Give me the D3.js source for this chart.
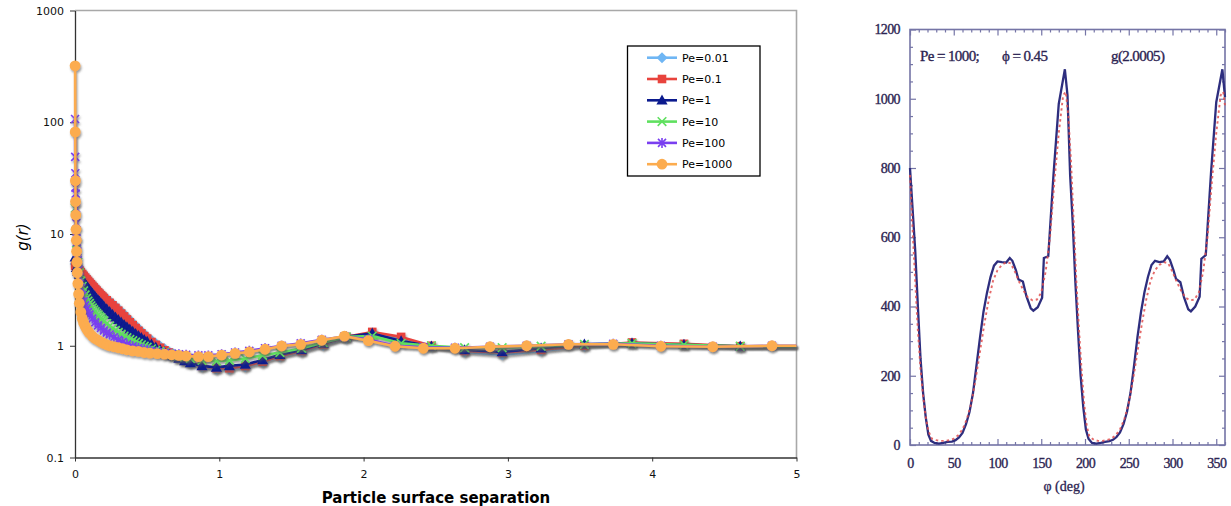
<!DOCTYPE html>
<html><head><meta charset="utf-8">
<script src="https://cdn.jsdelivr.net/npm/d3@7"></script>
<style>body{margin:0;background:#fff}svg{display:block}</style>
</head><body>
<svg id="c" width="1231" height="506"></svg>
<script>
// ---------------- LEFT CHART DATA ----------------
const seriesNames = ["Pe=0.01", "Pe=0.1", "Pe=1", "Pe=10", "Pe=100", "Pe=1000"];
const seriesColors = ["#6fb6f4", "#e8433d", "#0b1a8e", "#5fe05f", "#7a3ff0", "#fcac4f"];
const seriesMarkers = ["diamond", "square", "triangle", "x", "asterisk", "circle"];

// separations for Pe = 0.01 ... 10
const sepLow = [0.001, 0.01,
  0.02, 0.03, 0.04, 0.05, 0.06, 0.07, 0.08, 0.09, 0.10, 0.11, 0.12, 0.13, 0.14, 0.15, 0.16, 0.17, 0.18, 0.19, 0.20,
  0.22, 0.24, 0.26, 0.28, 0.30, 0.32, 0.34, 0.36, 0.38, 0.40, 0.42, 0.44, 0.46, 0.48, 0.50,
  0.53, 0.56, 0.59, 0.62, 0.65, 0.68,
  0.72, 0.76, 0.80,
  0.88, 0.98, 1.07, 1.18, 1.30, 1.42, 1.57, 1.72, 1.88, 2.06,
  2.26, 2.47, 2.70, 2.96, 3.23, 3.53, 3.86, 4.22, 4.61, 5.03];
const gPe001 = [5.4, 5.2,
  5.05, 4.87, 4.7, 4.53, 4.37, 4.22, 4.08, 3.94, 3.81, 3.68, 3.56, 3.45, 3.34, 3.23, 3.13, 3.03, 2.94, 2.86, 2.78,
  2.64, 2.5, 2.37, 2.25, 2.13, 2.01, 1.9, 1.79, 1.69, 1.59, 1.5, 1.42, 1.34, 1.27, 1.2,
  1.12, 1.05, 0.99, 0.94, 0.89, 0.85,
  0.79, 0.74, 0.7,
  0.65, 0.62, 0.62, 0.65, 0.71, 0.8, 0.89, 1.01, 1.17, 1.3,
  1.16, 0.98, 0.88, 0.83, 0.9, 0.99, 1.06, 1.03, 0.98, 0.98];
const gPe01 = [5.2, 5.0,
  4.9, 4.72, 4.55, 4.38, 4.22, 4.07, 3.93, 3.8, 3.67, 3.55, 3.43, 3.32, 3.21, 3.11, 3.01, 2.92, 2.83, 2.75, 2.67,
  2.55, 2.42, 2.3, 2.18, 2.06, 1.94, 1.83, 1.72, 1.62, 1.53, 1.44, 1.36, 1.29, 1.22, 1.16,
  1.08, 1.02, 0.96, 0.91, 0.87, 0.83,
  0.78, 0.74, 0.71,
  0.66, 0.63, 0.63, 0.66, 0.72, 0.81, 0.9, 1.03, 1.2, 1.33,
  1.2, 1.0, 0.9, 0.87, 0.92, 1.0, 1.07, 1.04, 0.99, 0.98];
const gPe1 = [6.2, 5.0,
  4.6, 4.35, 4.12, 3.93, 3.75, 3.59, 3.44, 3.3, 3.17, 3.05, 2.94, 2.84, 2.74, 2.65, 2.56, 2.48, 2.4, 2.33, 2.26,
  2.13, 2.01, 1.9, 1.8, 1.71, 1.62, 1.54, 1.47, 1.4, 1.34, 1.28, 1.23, 1.18, 1.13, 1.09,
  1.03, 0.97, 0.92, 0.88, 0.84, 0.81,
  0.77, 0.73, 0.7,
  0.66, 0.64, 0.66, 0.68, 0.745, 0.83, 0.915, 1.05, 1.2, 1.29,
  1.1, 0.99, 0.915, 0.88, 0.95, 1.03, 1.05, 1.02, 0.99, 0.99];
const gPe10 = [17, 8.3,
  5.6, 4.5, 3.8, 3.4, 3.1, 2.85, 2.66, 2.51, 2.39, 2.28, 2.18, 2.1, 2.02, 1.95, 1.88, 1.82, 1.76, 1.71, 1.66,
  1.58, 1.5, 1.43, 1.37, 1.32, 1.27, 1.22, 1.18, 1.14, 1.11, 1.08, 1.05, 1.02, 0.99, 0.97,
  0.94, 0.91, 0.89, 0.87, 0.85, 0.83,
  0.81, 0.79, 0.77,
  0.74, 0.73, 0.74, 0.77, 0.82, 0.87, 0.95, 1.07, 1.2, 1.22,
  1.05, 1.0, 0.96, 0.96, 0.99, 1.03, 1.05, 1.02, 0.99, 0.99];

// separations for Pe = 100, 1000
const sepHigh = [0.0005, 0.0015, 0.0025, 0.0035, 0.005, 0.007, 0.009, 0.011, 0.013, 0.016,
  0.02, 0.025, 0.03, 0.04, 0.05, 0.06, 0.07, 0.08, 0.09, 0.10,
  0.12, 0.14, 0.16, 0.18, 0.20, 0.22, 0.24, 0.27, 0.30, 0.33,
  0.36, 0.40, 0.44, 0.48, 0.52, 0.57, 0.62, 0.67, 0.72, 0.77,
  0.855, 0.924, 1.016, 1.109, 1.208, 1.317, 1.432, 1.564, 1.71, 1.867,
  2.033, 2.218, 2.414, 2.633, 2.876, 3.13, 3.42, 3.73, 4.06, 4.42,
  4.83, 5.25];
const gPe100 = [107, 49, 35, 26, 23, 17, 12.5, 10.5, 8.5, 7,
  5.8, 4.8, 4.1, 3.3, 2.8, 2.5, 2.3, 2.15, 2.0, 1.9,
  1.75, 1.62, 1.52, 1.44, 1.37, 1.31, 1.26, 1.19, 1.13, 1.08,
  1.03, 0.99, 0.96, 0.93, 0.9, 0.88, 0.86, 0.85, 0.84, 0.83,
  0.82, 0.82, 0.84, 0.87, 0.9, 0.95, 1.0, 1.05, 1.13, 1.21,
  1.14, 1.0, 0.97, 0.96, 0.98, 1.0, 1.03, 1.04, 1.0, 0.98,
  1.0, 1.0];
const gPe1000 = [320, 82, 30, 19.5, 14.8, 11, 8.8, 7, 5.6, 4.5,
  3.6, 2.9, 2.4, 2.0, 1.75, 1.6, 1.5, 1.42, 1.35, 1.3,
  1.22, 1.16, 1.12, 1.08, 1.05, 1.02, 1.0, 0.98, 0.96, 0.94,
  0.92, 0.9, 0.89, 0.87, 0.86, 0.85, 0.84, 0.83, 0.82, 0.81,
  0.8, 0.8, 0.826, 0.855, 0.88, 0.93, 0.995, 1.03, 1.12, 1.22,
  1.11, 0.99, 0.95, 0.95, 0.98, 1.0, 1.03, 1.03, 0.99, 0.98,
  1.0, 1.0];

const yTickValues = [0.1, 1, 10, 100, 1000];
const yTickLabels = ["0.1", "1", "10", "100", "1000"];
const xTickValues = [0, 1, 2, 3, 4, 5];
const xTitle = "Particle surface separation";
const yTitle = "g(r)";

// ---------------- RIGHT CHART DATA ----------------
const phiSolid = [0, 3, 6, 9, 12, 15, 18, 21, 24, 28, 33, 38, 43, 48, 52, 56, 60, 64, 68, 72, 76, 80, 84, 88, 92, 96, 100, 105, 110, 114, 117, 121, 124, 129, 133, 138, 141, 146, 151, 153, 158, 164, 170, 177, 180, 183, 186, 189, 192, 195, 198, 201, 204, 208, 213, 218, 223, 228, 232, 236, 240, 244, 248, 252, 256, 260, 264, 268, 272, 276, 280, 285, 290, 294, 297, 301, 304, 309, 313, 318, 321, 326, 331, 333, 338, 344, 350, 357, 360];
const gSolid = [800, 680, 560, 400, 250, 150, 80, 30, 12, 6, 4, 6, 9, 10, 14, 22, 35, 60, 95, 150, 230, 310, 385, 440, 485, 518, 530, 528, 527, 540, 532, 505, 478, 472, 430, 395, 388, 398, 425, 540, 545, 780, 985, 1085, 1010, 780, 640, 470, 330, 200, 110, 45, 18, 6, 4, 6, 9, 11, 15, 23, 36, 60, 96, 150, 228, 312, 384, 442, 486, 520, 532, 528, 530, 545, 535, 506, 480, 470, 428, 392, 386, 400, 428, 538, 548, 785, 990, 1085, 1005];
const phiDashed = [0, 3, 6, 9, 12, 15, 18, 21, 25, 30, 35, 40, 45, 50, 55, 60, 65, 70, 75, 80, 85, 90, 95, 100, 105, 110, 115, 120, 125, 130, 135, 140, 145, 150, 155, 160, 165, 170, 175, 178, 181, 184, 187, 190, 193, 196, 199, 202, 205, 210, 215, 220, 225, 230, 235, 240, 245, 250, 255, 260, 265, 270, 275, 280, 285, 290, 295, 300, 305, 310, 315, 320, 325, 330, 335, 340, 345, 350, 355, 358, 360];
const gDashed = [780, 620, 470, 330, 220, 140, 80, 40, 18, 14, 12, 12, 14, 18, 28, 45, 75, 120, 190, 270, 350, 420, 475, 505, 520, 528, 525, 500, 470, 445, 425, 418, 420, 440, 500, 600, 760, 900, 1010, 1020, 950, 820, 650, 480, 340, 220, 120, 55, 25, 15, 12, 12, 14, 18, 28, 45, 75, 120, 190, 270, 350, 420, 475, 505, 520, 528, 525, 500, 470, 445, 425, 418, 420, 440, 500, 600, 760, 900, 1010, 1020, 980];
const phiTicks = [0, 50, 100, 150, 200, 250, 300, 350];
const phiMinor = [10, 20, 30, 40, 60, 70, 80, 90, 110, 120, 130, 140, 160, 170, 180, 190, 210, 220, 230, 240, 260, 270, 280, 290, 310, 320, 330, 340, 360];
const gTicks = [0, 200, 400, 600, 800, 1000, 1200];
const gMinor = [50, 100, 150, 250, 300, 350, 450, 500, 550, 650, 700, 750, 850, 900, 950, 1050, 1100, 1150];
const annot = ["Pe = 1000;", "\u03d5 = 0.45", "g(2.0005)"];
const phiTitle = "\u03c6 (deg)";

// ---------------- DRAW ----------------
const svg = d3.select("#c");
const defs = svg.append("defs");
const sh = defs.append("filter").attr("id", "sh").attr("x", "-20%").attr("y", "-20%").attr("width", "140%").attr("height", "140%");
sh.append("feDropShadow").attr("dx", 1).attr("dy", 2).attr("stdDeviation", 0.8)
  .attr("flood-color", "#5a5a5a").attr("flood-opacity", 0.6);
defs.append("clipPath").attr("id", "clipL").append("rect")
  .attr("x", 30).attr("y", 0).attr("width", 796.5 - 30).attr("height", 458);
defs.append("filter").attr("id", "soft").append("feGaussianBlur").attr("stdDeviation", 0.5);

const xL = d3.scaleLinear().domain([0, 5]).range([75, 796.5]);
const yL = d3.scaleLog().domain([0.1, 1000]).range([457.5, 10.5]);

const gL = svg.append("g");
gL.append("path").attr("d", `M${xL(0)},${yL(1000)}H${xL(5)}V${yL(0.1)}`)
  .attr("fill", "none").attr("stroke", "#a8a8a8").attr("stroke-width", 1.6);

const axY = gL.append("g").attr("transform", `translate(${xL(0)},0)`)
  .call(d3.axisLeft(yL).tickValues(yTickValues)
    .tickFormat(d => yTickLabels[yTickValues.indexOf(d)])
    .tickSize(5).tickSizeOuter(0).tickPadding(6));
const axX = gL.append("g").attr("transform", `translate(0,${yL(0.1)})`)
  .call(d3.axisBottom(xL).tickValues(xTickValues).tickFormat(d3.format("d"))
    .tickSize(4).tickSizeOuter(0).tickPadding(9));
[axY, axX].forEach(a => {
  a.select(".domain").attr("stroke", "#333").attr("stroke-width", 1.3);
  a.selectAll(".tick line").attr("stroke", "#333");
  a.selectAll("text").attr("font-family", "DejaVu Sans, Verdana, sans-serif")
    .attr("font-size", 11).attr("fill", "#111");
});

gL.append("text").attr("x", 436).attr("y", 503).attr("text-anchor", "middle")
  .attr("font-family", "DejaVu Sans, Verdana, sans-serif").attr("font-weight", "bold")
  .attr("font-size", 15).attr("fill", "#000").text(xTitle);
gL.append("text").attr("transform", "translate(28,237) rotate(-90)").attr("text-anchor", "middle")
  .attr("font-family", "DejaVu Sans, Verdana, sans-serif").attr("font-style", "italic")
  .attr("font-size", 15).attr("fill", "#000").text(yTitle);

const markerPaths = {
  diamond: "M0,-5.5L5.5,0L0,5.5L-5.5,0Z",
  square: "M-4.3,-4.3h8.6v8.6h-8.6Z",
  triangle: "M0,-5.8L5.6,4.3L-5.6,4.3Z",
  x: "M-4.3,-4.3L4.3,4.3M-4.3,4.3L4.3,-4.3",
  asterisk: "M-4,-4L4,4M-4,4L4,-4M0,-5V5"
};
function drawMarker(sel, type, color) {
  if (type === "circle") {
    sel.append("circle").attr("r", 5.4).attr("fill", color);
  } else if (type === "x" || type === "asterisk") {
    sel.append("path").attr("d", markerPaths[type]).attr("fill", "none")
      .attr("stroke", color).attr("stroke-width", 1.6);
  } else {
    sel.append("path").attr("d", markerPaths[type]).attr("fill", color);
  }
}

const seriesX = [sepLow, sepLow, sepLow, sepLow, sepHigh, sepHigh];
const seriesY = [gPe001, gPe01, gPe1, gPe10, gPe100, gPe1000];
const line = d3.line().x(d => xL(d.x)).y(d => yL(d.y));

seriesNames.forEach((name, i) => {
  const data = seriesX[i].map((x, j) => ({ x: x, y: seriesY[i][j] }));
  const g = gL.append("g").attr("filter", "url(#sh)");
  g.append("path").datum(data).attr("d", line).attr("clip-path", "url(#clipL)")
    .attr("fill", "none").attr("stroke", seriesColors[i]).attr("stroke-width", 2.6)
    .attr("stroke-linejoin", "round");
  const m = g.selectAll("g.m").data(data.filter(d => d.x <= 5)).join("g")
    .attr("transform", d => `translate(${xL(d.x)},${yL(d.y)})`);
  m.each(function () { drawMarker(d3.select(this), seriesMarkers[i], seriesColors[i]); });
});

// legend
const lg = gL.append("g");
lg.append("rect").attr("x", 627.5).attr("y", 46).attr("width", 132.5).attr("height", 130)
  .attr("fill", "#fff").attr("stroke", "#000").attr("stroke-width", 1.3);
seriesNames.forEach((name, i) => {
  const yy = 57.7 + i * 21.3;
  lg.append("line").attr("x1", 647).attr("x2", 677).attr("y1", yy).attr("y2", yy)
    .attr("stroke", seriesColors[i]).attr("stroke-width", 2.6);
  drawMarker(lg.append("g").attr("transform", `translate(662,${yy})`), seriesMarkers[i], seriesColors[i]);
  lg.append("text").attr("x", 682).attr("y", yy + 4).attr("font-family", "DejaVu Sans, Verdana, sans-serif")
    .attr("font-size", 11).attr("fill", "#000").text(name);
});

// ---------------- RIGHT CHART ----------------
const xR = d3.scaleLinear().domain([0, 360]).range([910, 1225]);
const yR = d3.scaleLinear().domain([0, 1200]).range([445, 29.5]);
const gR = svg.append("g");
const axCol = "#7474a6";
const serif = "Liberation Serif, Times New Roman, serif";
const txtCol = "#2c2452";

const ga = gR.append("g").attr("filter", "url(#soft)");
ga.append("rect").attr("x", xR(0)).attr("y", yR(1200)).attr("width", xR(360) - xR(0))
  .attr("height", yR(0) - yR(1200)).attr("fill", "none").attr("stroke", axCol).attr("stroke-width", 1.6);

function tickAxis(axisFn, scale, vals, size, tx, ty) {
  const a = ga.append("g").attr("transform", `translate(${tx},${ty})`)
    .call(axisFn(scale).tickValues(vals).tickSize(size).tickSizeOuter(0).tickFormat(""));
  a.select(".domain").remove();
  a.selectAll(".tick line").attr("stroke", axCol).attr("stroke-width", 1.2);
  return a;
}
tickAxis(d3.axisBottom, xR, phiTicks, -6, 0, yR(0));
tickAxis(d3.axisBottom, xR, phiMinor, -3, 0, yR(0));
tickAxis(d3.axisTop, xR, phiTicks, -6, 0, yR(1200));
tickAxis(d3.axisTop, xR, phiMinor, -3, 0, yR(1200));
tickAxis(d3.axisLeft, yR, gTicks, -6, xR(0), 0);
tickAxis(d3.axisLeft, yR, gMinor, -3, xR(0), 0);
tickAxis(d3.axisRight, yR, gTicks, -6, xR(360), 0);
tickAxis(d3.axisRight, yR, gMinor, -3, xR(360), 0);

const lx = gR.append("g").attr("transform", `translate(0,${yR(0)})`)
  .call(d3.axisBottom(xR).tickValues(phiTicks).tickSize(0).tickPadding(13).tickFormat(d3.format("d")));
lx.select(".domain").remove();
const ly = gR.append("g").attr("transform", `translate(${xR(0)},0)`)
  .call(d3.axisLeft(yR).tickValues(gTicks).tickSize(0).tickPadding(10).tickFormat(d3.format("d")));
ly.select(".domain").remove();
[lx, ly].forEach(a => a.selectAll("text").attr("font-family", serif).attr("font-size", 14)
  .attr("fill", txtCol).attr("stroke", txtCol).attr("stroke-width", 0.35).attr("letter-spacing", -0.6));

const lineR = d3.line().x(d => xR(d.x)).y(d => yR(d.y));
const solid = phiSolid.map((p, i) => ({ x: p, y: gSolid[i] }));
const dashed = phiDashed.map((p, i) => ({ x: p, y: gDashed[i] }));
const gl = gR.append("g").attr("filter", "url(#soft)");
gl.append("path").datum(solid).attr("d", lineR).attr("fill", "none")
  .attr("stroke", "#2d2d7e").attr("stroke-width", 2.3);
gl.append("path").datum(dashed).attr("d", lineR).attr("fill", "none")
  .attr("stroke", "#e05050").attr("stroke-width", 1.9).attr("stroke-dasharray", "2.5,3")
  .attr("stroke-opacity", 0.85);

const annX = [920, 1002, 1111];
annot.forEach((t, i) => gR.append("text").attr("x", annX[i]).attr("y", 61)
  .attr("font-family", serif).attr("font-size", 15).attr("fill", txtCol)
  .attr("stroke", txtCol).attr("stroke-width", 0.35)
  .attr("letter-spacing", -0.6).text(t));
gR.append("text").attr("x", 1064).attr("y", 491).attr("text-anchor", "middle")
  .attr("font-family", serif).attr("font-size", 14).attr("fill", txtCol)
  .attr("stroke", txtCol).attr("stroke-width", 0.3).text(phiTitle);
</script>
</body></html>
